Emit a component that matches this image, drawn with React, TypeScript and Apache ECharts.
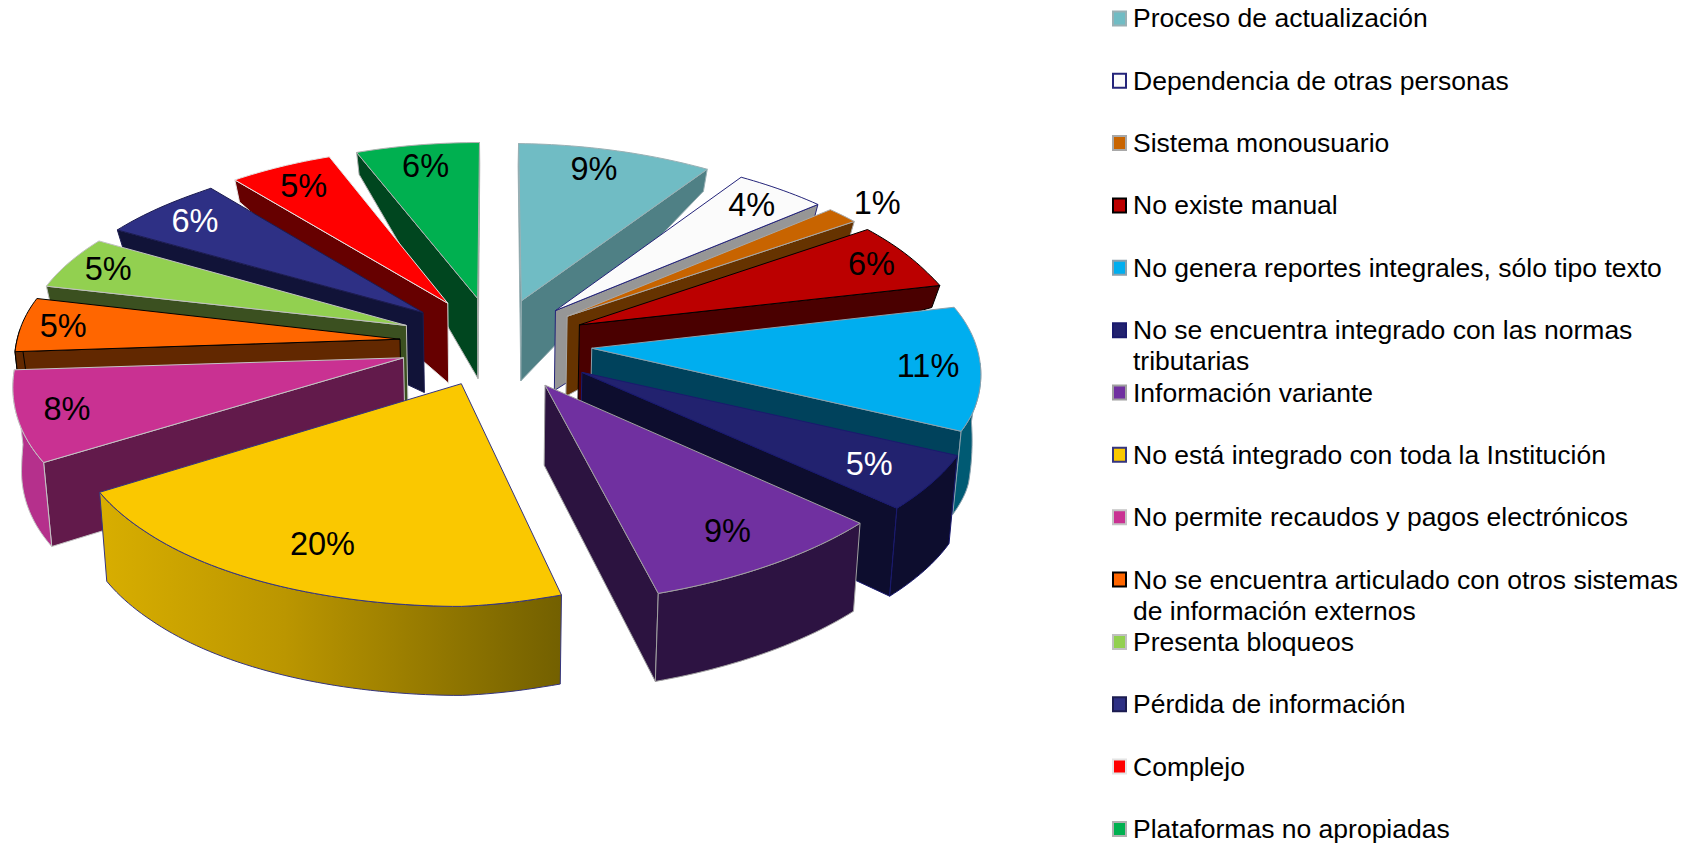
import React, { useEffect, useRef } from "react";
import * as echarts from "echarts";

const categories = [
  "Proceso de actualización",
  "Dependencia de otras personas",
  "Sistema monousuario",
  "No existe manual",
  "No genera reportes integrales, sólo tipo texto",
  "No se encuentra integrado con las normas\ntributarias",
  "Información variante",
  "No está integrado con toda la Institución",
  "No permite recaudos y pagos electrónicos",
  "No se encuentra articulado con otros sistemas\nde información externos",
  "Presenta bloqueos",
  "Pérdida de información",
  "Complejo",
  "Plataformas no apropiadas",
];
const values = [9, 4, 1.4, 5.6, 11, 5, 9, 20, 8, 5, 5, 6, 5, 6];

const topColors = ["#70bcc4", "#fbfbfb", "#c86400", "#bb0000", "#00aeef", "#22226f", "#7030a0", "#fac800", "#c93192", "#ff6600", "#92d050", "#2e3085", "#ff0000", "#00b050"];
const faceColors = ["#4f8085", "#969696", "#663300", "#4a0000", "#00425c", "#0d0d2e", "#2c1340", "#7a6400", "#621a4b", "#622800", "#3b5020", "#111338", "#660000", "#00461f"];
const wallColors = ["#4f8085", "#969696", "#663300", "#4a0000", "#005a73", "#0d0d2e", "#2d1342", "#7a6400", "#b5308c", "#622800", "#3b5020", "#111338", "#660000", "#00461f"];
const edgeColors = ["#9ab0b4", "#24247a", "#a8a8a8", "#000000", "#8aa0ac", "#1a1a6e", "#a0a0a0", "#35357f", "#c4c4c4", "#000000", "#c0c0c0", "#1c1c50", "#e4e4e4", "#b0b0b0"];
const labelColors = ["#000", "#000", "#000", "#000", "#000", "#fff", "#000", "#000", "#000", "#000", "#000", "#fff", "#000", "#000"];
const labelReach = [0.87, 0.87, 1.12, 0.89, 0.865, 0.83, 0.825, 0.81, 0.88, 0.89, 0.88, 0.86, 0.85, 0.85];
const labelShiftX = [-9, 0, 0, 0, 0, 0, 0, -2, 0, 0, 0, 0, 0, 0];
const frontDepths = [85, 85, 85, 85, 83, 88, 88, 89, 84, 85, 85, 85, 85, 85];
const explodes = [0.25, 0.25, 0.25, 0.25, 0.25, 0.27, 0.255, 0.23, 0.25, 0.25, 0.25, 0.25, 0.25, 0.25];

const CX = 495, CY = 343, RX_RIGHT = 388, RX_LEFT = 380.5, RX_LEFT_FRONT = 38, RY = 185, PERSP = 0.12;
const SHEAR = 35, TILT_R = 15, TILT_L = 18, BACK_BULGE = 18;
const APEX_DEPTH = 80, BACK_DEPTH = 22, INSET = 0.018;
const W = 1695, H = 843;
const total = values.reduce((a, b) => a + b, 0);

const clamp = (v: number, a: number, b: number) => Math.max(a, Math.min(b, v));
function project(X: number, Y: number): number[] {
  const f = 1 / (1 - PERSP * Y);
  const py = Math.max(Y, 0);
  const rx = X > 0 ? RX_RIGHT : RX_LEFT + RX_LEFT_FRONT * py * py;
  const tilt =
    X > 0
      ? TILT_R * X * (Y < 0 ? clamp(1.5 - Math.abs(Y), 0, 1) : clamp(1.25 - Y, 0, 1))
      : TILT_L * X * clamp((Y + 0.9) / 1.7, 0, 1.1);
  const bulge = X > 0 && Y < 0 ? BACK_BULGE * X * X * X * -Y : 0;
  return [
    CX + rx * X * f - SHEAR * py * clamp((X + 0.9) / 1.1, 0, 1) + bulge,
    CY + RY * Y * f + tilt,
  ];
}
function drop(p: number[], depth: number): number[] {
  return [p[0] - INSET * (p[0] - CX), p[1] + depth];
}
const starts: number[] = [];
values.reduce((acc, v, i) => { starts[i] = acc; return acc + v; }, 0);
const toAngle = (share: number) => (share / total) * Math.PI * 2;

function rimDepth(theta: number, i: number) {
  const c = Math.cos(theta);
  const t = clamp((0.3 - c) / 0.5, 0, 1);
  return BACK_DEPTH + (frontDepths[i] - BACK_DEPTH) * t;
}

const drawOrder = values
  .map((_, i) => i)
  .sort((a, b) => {
    const m = (k: number) => Math.cos(toAngle(starts[k] + values[k] / 2));
    return m(b) - m(a);
  });

function faceShows(A: number[], P: number[], Q: number[]) {
  const ex = P[0] - A[0], ey = P[1] - A[1];
  const crossDown = ex;
  const crossOther = ex * (Q[1] - A[1]) - ey * (Q[0] - A[0]);
  return crossDown * crossOther < 0;
}

function renderSlice(params: any) {
  const i = drawOrder[params.dataIndex];
  const a0 = toAngle(starts[i]);
  const a1 = toAngle(starts[i] + values[i]);
  const mid = (a0 + a1) / 2;
  const ax = explodes[i] * Math.sin(mid), ay = -explodes[i] * Math.cos(mid);
  const rimAt = (t: number) => project(ax + Math.sin(t), ay - Math.cos(t));
  const apexTop = project(ax, ay);
  const apexBot = drop(apexTop, APEX_DEPTH);
  const steps = Math.max(2, Math.ceil((a1 - a0) / 0.02));
  const arc: number[][] = [];
  for (let s = 0; s <= steps; s++) arc.push(rimAt(a0 + ((a1 - a0) * s) / steps));

  const wallFrom = Math.max(a0, Math.PI * 0.5);
  const wallTo = Math.min(a1, Math.PI * 1.5);
  const wallTop: number[][] = [];
  const wallBot: number[][] = [];
  if (wallTo > wallFrom) {
    const n = Math.max(2, Math.ceil((wallTo - wallFrom) / 0.02));
    for (let s = 0; s <= n; s++) {
      const t = wallFrom + ((wallTo - wallFrom) * s) / n;
      const p = rimAt(t);
      wallTop.push(p);
      wallBot.push(drop(p, rimDepth(t, i)));
    }
  }
  const edge = edgeColors[i];
  const thin = { stroke: edge, lineWidth: 1 };
  const wallFill: any =
    i === 7
      ? new echarts.graphic.LinearGradient(0, 0, 1, 0, [
          { offset: 0, color: "#d8ae00" },
          { offset: 0.4, color: "#bb9600" },
          { offset: 1, color: "#736000" },
        ])
      : wallColors[i];
  const poly = (points: number[][], fill: any) => ({
    type: "polygon",
    shape: { points },
    style: { fill, ...thin },
    silent: true,
  });
  const lab = project(ax + labelReach[i] * Math.sin(mid), ay - labelReach[i] * Math.cos(mid));
  const P0 = arc[0], P1 = arc[steps];
  const children: any[] = [];
  if (faceShows(apexTop, P0, P1))
    children.push(poly([apexTop, P0, drop(P0, rimDepth(a0, i)), apexBot], faceColors[i]));
  if (faceShows(apexTop, P1, P0))
    children.push(poly([apexTop, P1, drop(P1, rimDepth(a1, i)), apexBot], faceColors[i]));
  if (wallTop.length) children.push(poly([...wallTop, ...wallBot.slice().reverse()], wallFill));
  children.push(poly([apexTop, ...arc], topColors[i]));
  children.push({
    type: "text",
    z2: 100,
    silent: true,
    style: {
      x: lab[0] + labelShiftX[i],
      y: lab[1],
      text: Math.round(values[i]) + "%",
      fill: labelColors[i],
      font: "32.5px 'Liberation Sans', Arial, sans-serif",
      align: "center",
      verticalAlign: "middle",
    },
  });
  return { type: "group", children };
}

const LEGEND_TOP = 18.4, LEGEND_PITCH = 62.35, LEGEND_ICON_X = 1112, LEGEND_TEXT_X = 1133, LEGEND_LINE = 31;
const legendElements: any[] = categories.flatMap((name, i) => {
  const y = LEGEND_TOP + i * LEGEND_PITCH;
  return [
    {
      type: "rect",
      silent: true,
      shape: { x: LEGEND_ICON_X + 1, y: y - 7, width: 13, height: 14 },
      style: { fill: topColors[i], stroke: edgeColors[i], lineWidth: 2 },
    },
    ...name.split("\n").map((line, k) => ({
      type: "text",
      silent: true,
      style: {
        x: LEGEND_TEXT_X,
        y: y + k * LEGEND_LINE,
        text: line,
        fill: "#000",
        font: "26.5px 'Liberation Sans', Arial, sans-serif",
        align: "left",
        verticalAlign: "middle",
      },
    })),
  ];
});

export default function App() {
  const ref = useRef<HTMLDivElement>(null);
  useEffect(() => {
    const chart = echarts.init(ref.current!, undefined, { renderer: "svg" });
    chart.setOption({
      animation: false,
      backgroundColor: "#fff",
      series: [
        {
          type: "custom",
          coordinateSystem: "none",
          silent: true,
          clip: false,
          renderItem: renderSlice,
          data: drawOrder.map((i) => [values[i]]),
        },
      ],
      graphic: { elements: legendElements },
    });
    return () => chart.dispose();
  }, []);
  return <div ref={ref} style={{ position: "fixed", left: 0, top: 0, width: W, height: H }} />;
}
